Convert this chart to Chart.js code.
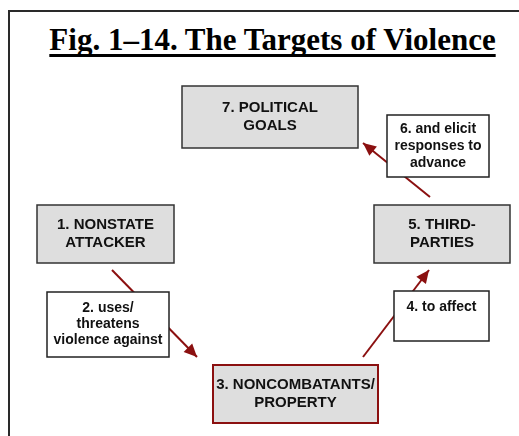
<!DOCTYPE html>
<html>
<head>
<meta charset="utf-8">
<script src="https://cdn.jsdelivr.net/npm/chart.js@4.4.1/dist/chart.umd.min.js"></script>
<style>
  html, body { margin: 0; padding: 0; background: #fff; width: 519px; height: 436px; overflow: hidden; }
  #wrap { position: relative; width: 519px; height: 436px; }
  #frame { position: absolute; left: 8px; top: 10px; width: 600px; height: 600px;
    border-left: 2px solid #2a2a2a; border-top: 2px solid #2a2a2a; }
  #ttl { position: absolute; left: 0; top: 24px; width: 545px; text-align: center;
    font: bold 31px 'Liberation Serif', 'Times New Roman', serif; line-height: 31px; color: #000;
    text-decoration: underline; text-decoration-thickness: 2.5px; text-underline-offset: 4px;
    text-decoration-skip-ink: none; }
  canvas { position: absolute; left: 0; top: 0; }
</style>
</head>
<body>
<div id="wrap">
  <div id="frame"></div>
  <div id="ttl">Fig. 1–14. The Targets of Violence</div>
  <canvas id="c" width="519" height="436"></canvas>
</div>
<script>
// nodes of the diagram (centre on a 519 x 436 grid)
var nodeLabels = [
  ['7. POLITICAL', 'GOALS'],
  ['1. NONSTATE', 'ATTACKER'],
  ['3. NONCOMBATANTS/', 'PROPERTY'],
  ['5. THIRD-', 'PARTIES']
];
var nodeX = [270, 105.5, 295.5, 442];
var nodeY = [117, 234, 394, 234];

// step captions sitting on the arrows
var stepLabels = [
  ['2. uses/', 'threatens', 'violence against'],
  ['4. to affect', ''],
  ['6. and elicit', 'responses to', 'advance']
];
var stepX = [108, 441.5, 438];
var stepY = [324.5, 316, 146];

// arrows: start -> tip
var arrowFrom = [[112, 270], [363, 357], [430, 197]];
var arrowTo = [[197, 357], [429, 270], [363, 143]];

// box sizes / styles (layout, not data)
var NODE_W = [176, 137, 165, 136], NODE_H = [62, 58, 58, 58];
var STEP_W = [122, 95, 102], STEP_H = [65, 50, 62];
var RED = '#8b1010', GREY = '#dedede', EDGE = '#333';

var datasets = arrowFrom.map(function (a, i) {
  return {
    type: 'line', data: [{ x: a[0], y: a[1] }, { x: arrowTo[i][0], y: arrowTo[i][1] }],
    borderColor: RED, borderWidth: 2, pointRadius: 0, arrow: true
  };
});
datasets.push({ type: 'scatter', data: nodeX.map(function (x, i) { return { x: x, y: nodeY[i] }; }), pointRadius: 0 });

function box(ctx, sx, sy, cx, cy, w, h, fill, stroke, lw, lines, font, lh) {
  var x0 = sx.getPixelForValue(cx - w / 2), x1 = sx.getPixelForValue(cx + w / 2);
  var y0 = sy.getPixelForValue(cy - h / 2), y1 = sy.getPixelForValue(cy + h / 2);
  ctx.fillStyle = fill; ctx.fillRect(x0, y0, x1 - x0, y1 - y0);
  ctx.strokeStyle = stroke; ctx.lineWidth = lw; ctx.strokeRect(x0, y0, x1 - x0, y1 - y0);
  ctx.fillStyle = '#111'; ctx.font = font; ctx.textAlign = 'center'; ctx.textBaseline = 'middle';
  var py = sy.getPixelForValue(cy), px = sx.getPixelForValue(cx);
  lines.forEach(function (t, k) { ctx.fillText(t, px, py + (k - (lines.length - 1) / 2) * lh); });
}

var diagram = {
  id: 'diagram',
  afterDatasetsDraw: function (chart) {
    var ctx = chart.ctx, sx = chart.scales.x, sy = chart.scales.y;
    ctx.save();
    // arrow heads
    chart.data.datasets.forEach(function (ds) {
      if (!ds.arrow) return;
      var p0 = ds.data[0], p1 = ds.data[1];
      var ax = sx.getPixelForValue(p0.x), ay = sy.getPixelForValue(p0.y);
      var bx = sx.getPixelForValue(p1.x), by = sy.getPixelForValue(p1.y);
      var ang = Math.atan2(by - ay, bx - ax), L = 13, W = 6;
      ctx.fillStyle = RED; ctx.beginPath();
      ctx.moveTo(bx, by);
      ctx.lineTo(bx - L * Math.cos(ang) + W * Math.sin(ang), by - L * Math.sin(ang) - W * Math.cos(ang));
      ctx.lineTo(bx - L * Math.cos(ang) - W * Math.sin(ang), by - L * Math.sin(ang) + W * Math.cos(ang));
      ctx.closePath(); ctx.fill();
    });
    nodeLabels.forEach(function (lines, i) {
      box(ctx, sx, sy, nodeX[i], nodeY[i], NODE_W[i], NODE_H[i], GREY, i === 2 ? RED : EDGE, i === 2 ? 2 : 1.5,
        lines, 'bold 15px "Liberation Sans", Arial, sans-serif', 18);
    });
    stepLabels.forEach(function (lines, i) {
      box(ctx, sx, sy, stepX[i], stepY[i], STEP_W[i], STEP_H[i], '#fff', '#222', 1.5,
        lines, 'bold 14px "Liberation Sans", Arial, sans-serif', i === 0 ? 16 : 17);
    });
    ctx.restore();
  }
};

new Chart(document.getElementById('c'), {
  type: 'scatter',
  data: { datasets: datasets },
  options: {
    responsive: false, animation: false,
    layout: { padding: 0 },
    plugins: { legend: { display: false }, tooltip: { enabled: false }, title: { display: false } },
    scales: {
      x: { type: 'linear', min: 0, max: 519, display: false },
      y: { type: 'linear', min: 0, max: 436, reverse: true, display: false }
    }
  },
  plugins: [diagram]
});
</script>
</body>
</html>
